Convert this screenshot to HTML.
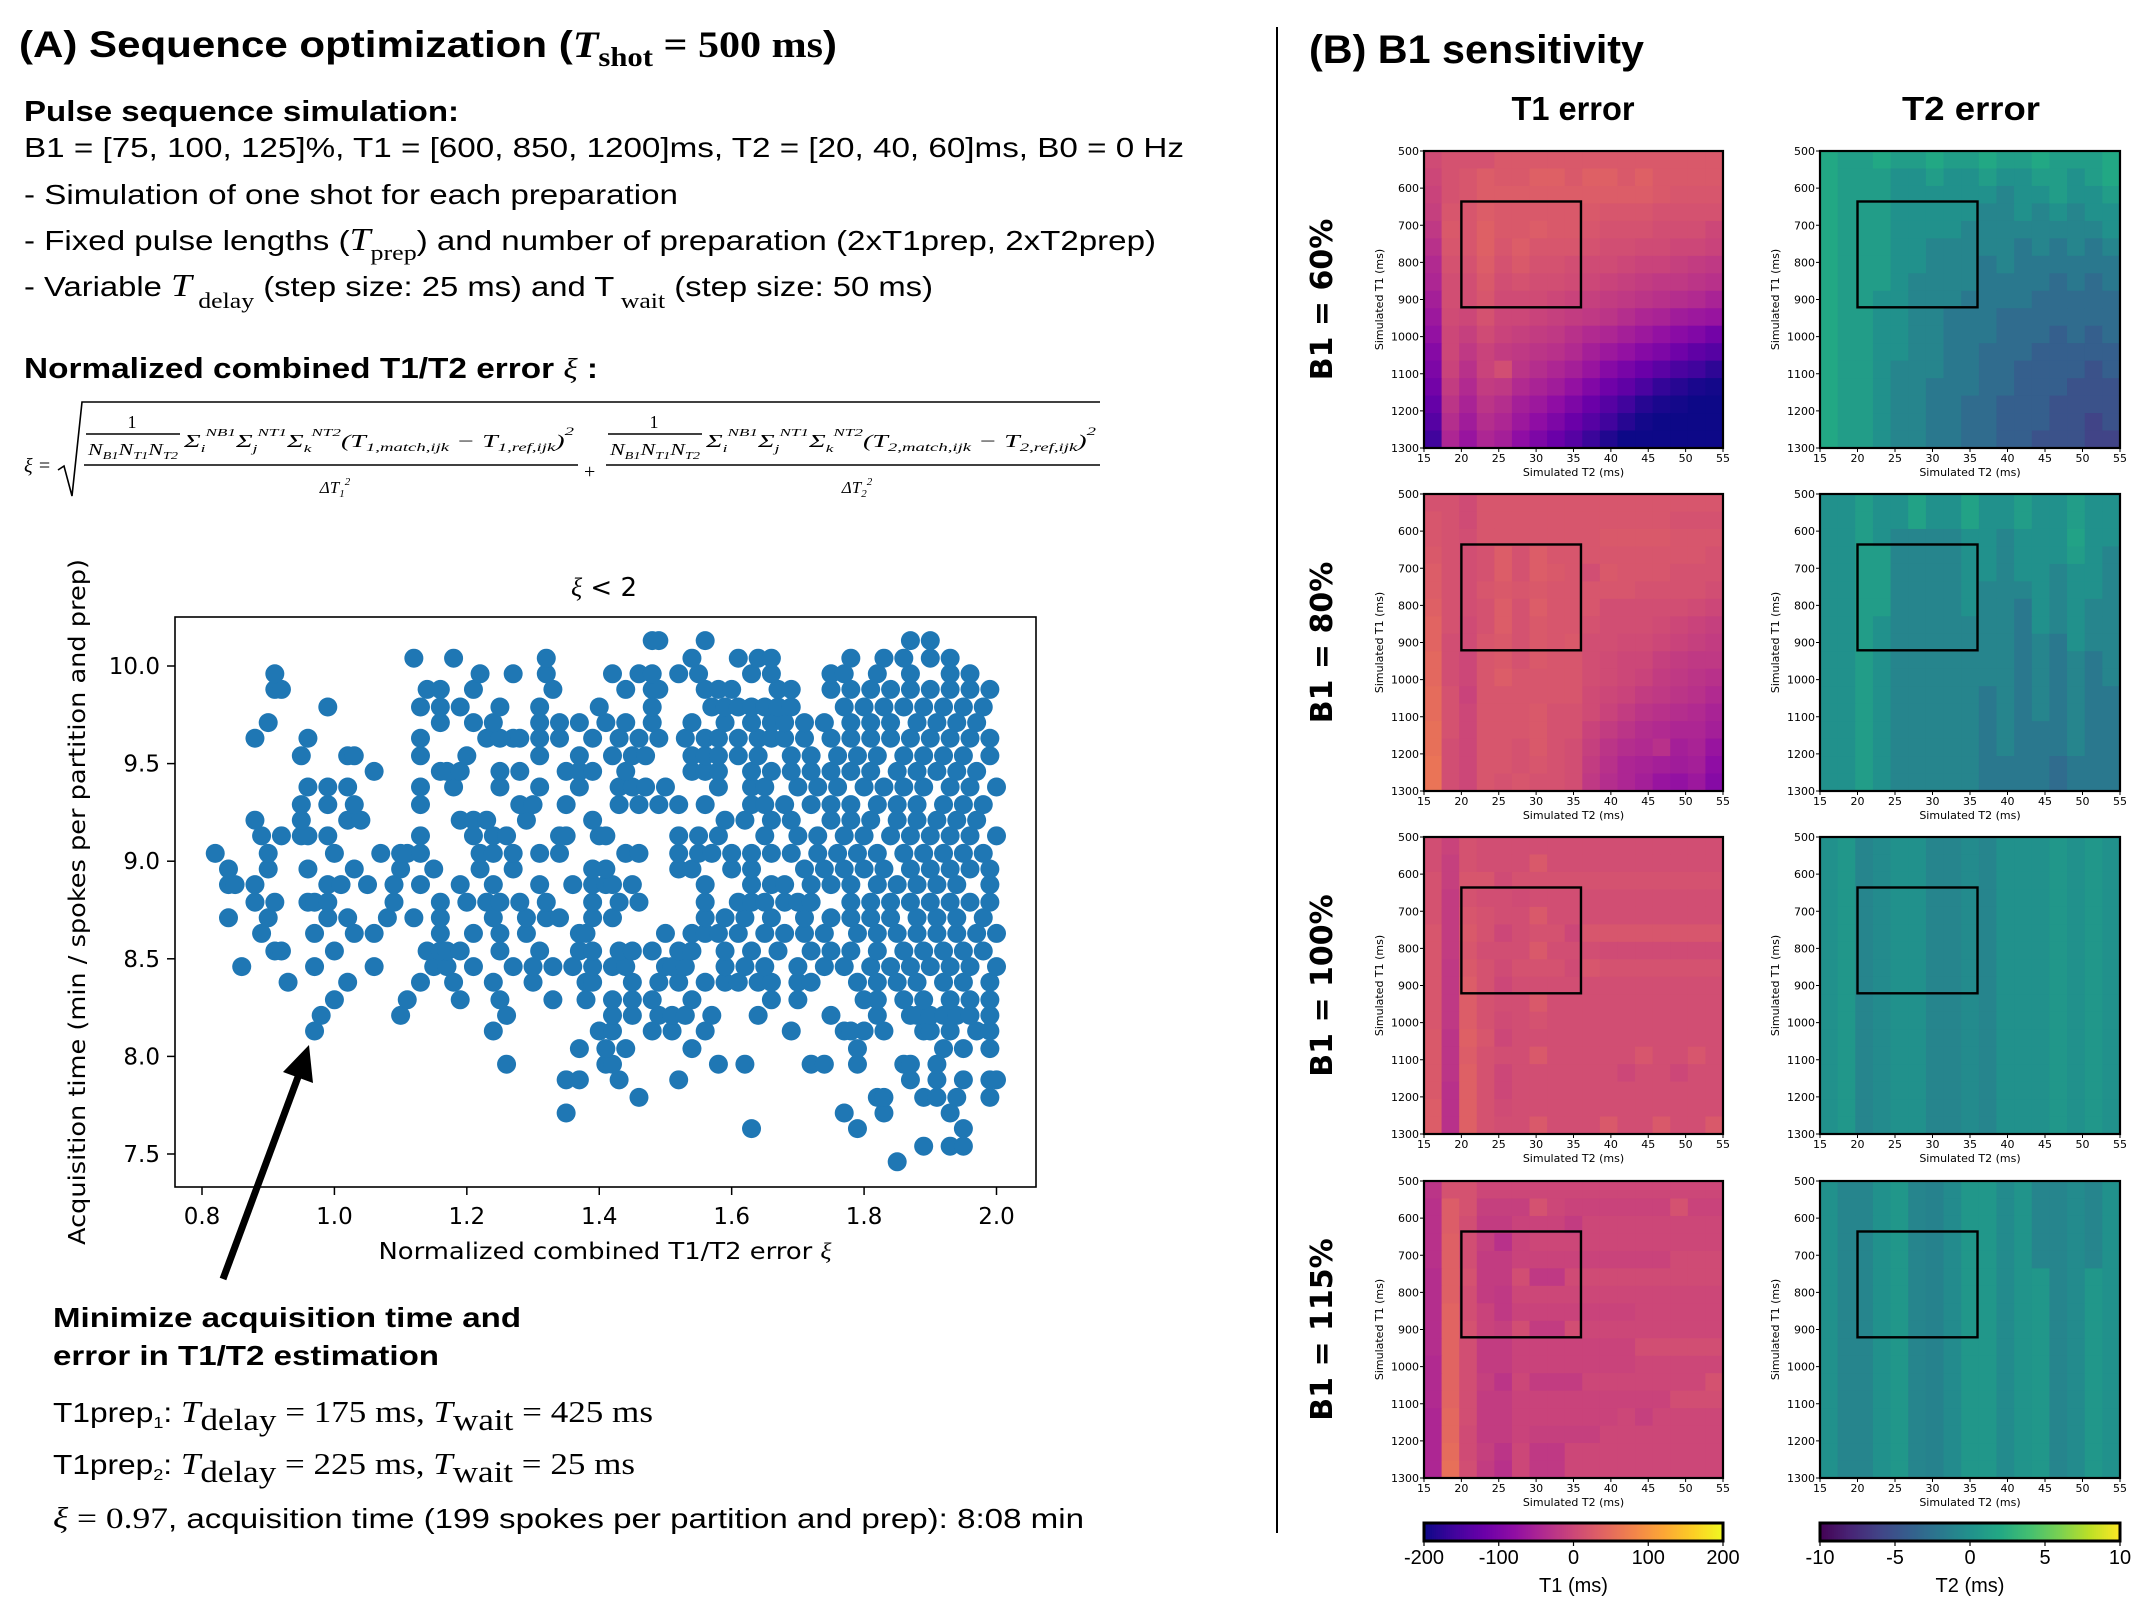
<!DOCTYPE html>
<html><head><meta charset="utf-8"><style>
html,body{margin:0;padding:0;background:#fff;}
svg{display:block;}
.t{font-family:"Liberation Sans",Arial,sans-serif;fill:#000;}
.m{font-family:"DejaVu Sans","Liberation Sans",sans-serif;fill:#000;}
.s{font-family:"Liberation Serif",serif;fill:#000;}
</style></head><body>
<svg id="fig" width="2150" height="1619" viewBox="0 0 2150 1619" xmlns="http://www.w3.org/2000/svg">
<rect x="0" y="0" width="2150" height="1619" fill="#fff"/>
<g>
<text class="t" x="19" y="57" font-size="37" font-weight="bold" textLength="818" lengthAdjust="spacingAndGlyphs">(A) Sequence optimization (<tspan class="s" font-style="italic">T</tspan><tspan class="s" font-size="27" dy="9">shot</tspan><tspan class="s" dy="-9"> = 500 ms</tspan>)</text>
<text class="t" x="24" y="121" font-size="29" font-weight="bold" textLength="435" lengthAdjust="spacingAndGlyphs">Pulse sequence simulation:</text>
<text class="t" x="24" y="157" font-size="28" textLength="1160" lengthAdjust="spacingAndGlyphs">B1 = [75, 100, 125]%, T1 = [600, 850, 1200]ms, T2 = [20, 40, 60]ms, B0 = 0 Hz</text>
<text class="t" x="24" y="204" font-size="28" textLength="654" lengthAdjust="spacingAndGlyphs">- Simulation of one shot for each preparation</text>
<text class="t" x="24" y="250" font-size="28" textLength="1132" lengthAdjust="spacingAndGlyphs">- Fixed pulse lengths (<tspan class="s" font-style="italic" font-size="32">T</tspan><tspan class="s" font-size="22" dy="10">prep</tspan><tspan dy="-10">) and number of preparation (2xT1prep, 2xT2prep)</tspan></text>
<text class="t" x="24" y="296" font-size="28" textLength="909" lengthAdjust="spacingAndGlyphs">- Variable <tspan class="s" font-style="italic" font-size="32">T</tspan><tspan class="s" font-size="22" dy="12"> delay</tspan><tspan dy="-12"> (step size: 25 ms) and T</tspan><tspan class="s" font-size="22" dy="12"> wait</tspan><tspan dy="-12"> (step size: 50 ms)</tspan></text>
<text class="t" x="24" y="378" font-size="29" font-weight="bold" textLength="574" lengthAdjust="spacingAndGlyphs">Normalized combined T1/T2 error <tspan class="s" font-style="italic" font-weight="normal">ξ</tspan> :</text>
</g>
<g stroke-linecap="butt">
<text class="s" x="24" y="472" font-size="20" font-style="italic">ξ =</text>
<path d="M 58 470 L 64 466 L 72 496 L 82 402 L 1100 402" fill="none" stroke="#000" stroke-width="1.6"/>
<text class="s" x="132" y="428" font-size="18" text-anchor="middle">1</text>
<line x1="86" y1="434" x2="180" y2="434" stroke="#000" stroke-width="1.4"/>
<text class="s" x="88" y="455" font-size="17" font-style="italic" textLength="90" lengthAdjust="spacingAndGlyphs">N<tspan font-size="11" dy="4">B1</tspan><tspan dy="-4">N</tspan><tspan font-size="11" dy="4">T1</tspan><tspan dy="-4">N</tspan><tspan font-size="11" dy="4">T2</tspan></text>
<text class="s" x="184" y="447" font-size="18" font-style="italic" textLength="390" lengthAdjust="spacingAndGlyphs">Σ<tspan font-size="11" dy="5">i</tspan><tspan font-size="11" dy="-16">NB1</tspan><tspan dy="11">Σ</tspan><tspan font-size="11" dy="5">j</tspan><tspan font-size="11" dy="-16">NT1</tspan><tspan dy="11">Σ</tspan><tspan font-size="11" dy="5">k</tspan><tspan font-size="11" dy="-16">NT2</tspan><tspan dy="11">(T</tspan><tspan font-size="12" dy="4">1,match,ijk</tspan><tspan dy="-4"> − T</tspan><tspan font-size="12" dy="4">1,ref,ijk</tspan><tspan dy="-4">)</tspan><tspan font-size="12" dy="-12">2</tspan></text>
<line x1="84" y1="465" x2="578" y2="465" stroke="#000" stroke-width="1.6"/>
<text class="s" x="335" y="493" font-size="17" font-style="italic" text-anchor="middle">ΔT<tspan font-size="11" dy="4">1</tspan><tspan font-size="11" dy="-12">2</tspan></text>
<text class="s" x="584" y="478" font-size="20">+</text>
<text class="s" x="654" y="428" font-size="18" text-anchor="middle">1</text>
<line x1="608" y1="434" x2="702" y2="434" stroke="#000" stroke-width="1.4"/>
<text class="s" x="610" y="455" font-size="17" font-style="italic" textLength="90" lengthAdjust="spacingAndGlyphs">N<tspan font-size="11" dy="4">B1</tspan><tspan dy="-4">N</tspan><tspan font-size="11" dy="4">T1</tspan><tspan dy="-4">N</tspan><tspan font-size="11" dy="4">T2</tspan></text>
<text class="s" x="706" y="447" font-size="18" font-style="italic" textLength="390" lengthAdjust="spacingAndGlyphs">Σ<tspan font-size="11" dy="5">i</tspan><tspan font-size="11" dy="-16">NB1</tspan><tspan dy="11">Σ</tspan><tspan font-size="11" dy="5">j</tspan><tspan font-size="11" dy="-16">NT1</tspan><tspan dy="11">Σ</tspan><tspan font-size="11" dy="5">k</tspan><tspan font-size="11" dy="-16">NT2</tspan><tspan dy="11">(T</tspan><tspan font-size="12" dy="4">2,match,ijk</tspan><tspan dy="-4"> − T</tspan><tspan font-size="12" dy="4">2,ref,ijk</tspan><tspan dy="-4">)</tspan><tspan font-size="12" dy="-12">2</tspan></text>
<line x1="606" y1="465" x2="1100" y2="465" stroke="#000" stroke-width="1.6"/>
<text class="s" x="857" y="493" font-size="17" font-style="italic" text-anchor="middle">ΔT<tspan font-size="11" dy="4">2</tspan><tspan font-size="11" dy="-12">2</tspan></text>
</g>
<g id="scatter">
<text class="m" x="604" y="596" font-size="26" text-anchor="middle"><tspan class="s" font-style="italic">ξ</tspan> &lt; 2</text>
<g id="scatter-ticks"></g>
<g id="scatter-points"></g>
<rect x="175" y="617" width="861" height="570" fill="none" stroke="#000" stroke-width="1.6"/>
<text class="m" x="605" y="1259" font-size="23" text-anchor="middle" textLength="453" lengthAdjust="spacingAndGlyphs">Normalized combined T1/T2 error <tspan class="s" font-style="italic">ξ</tspan></text>
<text class="m" transform="translate(85,902) rotate(-90)" font-size="23" text-anchor="middle" textLength="686" lengthAdjust="spacingAndGlyphs">Acquisition time (min / spokes per partition and prep)</text>
</g>
<g>
<line x1="223" y1="1279" x2="298" y2="1077" stroke="#000" stroke-width="7"/>
<polygon points="309,1045 313,1083 283,1072" fill="#000"/>
</g>
<g>
<text class="t" x="53" y="1327" font-size="28" font-weight="bold" textLength="468" lengthAdjust="spacingAndGlyphs">Minimize acquisition time and</text>
<text class="t" x="53" y="1365" font-size="28" font-weight="bold" textLength="386" lengthAdjust="spacingAndGlyphs">error in T1/T2 estimation</text>
<text class="t" x="53" y="1422" font-size="28" textLength="600" lengthAdjust="spacingAndGlyphs">T1prep<tspan font-size="16" dy="6">1</tspan><tspan dy="-6">: </tspan><tspan class="s" font-style="italic" font-size="31">T</tspan><tspan class="s" font-size="31" dy="8">delay</tspan><tspan class="s" font-size="31" dy="-8"> = 175 ms, </tspan><tspan class="s" font-style="italic" font-size="31">T</tspan><tspan class="s" font-size="31" dy="8">wait</tspan><tspan class="s" font-size="31" dy="-8"> = 425 ms</tspan></text>
<text class="t" x="53" y="1474" font-size="28" textLength="582" lengthAdjust="spacingAndGlyphs">T1prep<tspan font-size="16" dy="6">2</tspan><tspan dy="-6">: </tspan><tspan class="s" font-style="italic" font-size="31">T</tspan><tspan class="s" font-size="31" dy="8">delay</tspan><tspan class="s" font-size="31" dy="-8"> = 225 ms, </tspan><tspan class="s" font-style="italic" font-size="31">T</tspan><tspan class="s" font-size="31" dy="8">wait</tspan><tspan class="s" font-size="31" dy="-8"> = 25 ms</tspan></text>
<text class="t" x="53" y="1528" font-size="28" textLength="1031" lengthAdjust="spacingAndGlyphs"><tspan class="s" font-style="italic" font-size="30">ξ</tspan><tspan class="s" font-size="30"> = 0.97</tspan>, acquisition time (199 spokes per partition and prep): 8:08 min</text>
</g>
<line x1="1277" y1="27" x2="1277" y2="1533" stroke="#000" stroke-width="2"/>
<text class="t" x="1309" y="63" font-size="40" font-weight="bold" textLength="335" lengthAdjust="spacingAndGlyphs">(B) B1 sensitivity</text>
<text class="t" x="1573" y="120" font-size="33" font-weight="bold" text-anchor="middle" textLength="123" lengthAdjust="spacingAndGlyphs">T1 error</text>
<text class="t" x="1971" y="120" font-size="33" font-weight="bold" text-anchor="middle" textLength="138" lengthAdjust="spacingAndGlyphs">T2 error</text>
<g id="heatmaps"></g>
<g id="colorbars"></g>
</svg>
<script>
const timeLevels = [7.46,7.54,7.63,7.71,7.79,7.88,7.96,8.04,8.13,8.21,8.29,8.38,8.46,8.54,8.63,8.71,8.79,8.88,8.96,9.04,9.13,9.21,9.29,9.38,9.46,9.54,9.63,9.71,9.79,9.88,9.96,10.04,10.13];
const errorsByLevel = [
[1.85],
[1.89,1.93,1.95],
[1.63,1.79,1.95],
[1.35,1.77,1.83,1.93],
[1.46,1.82,1.83,1.89,1.91,1.94,1.99],
[1.35,1.37,1.43,1.52,1.87,1.91,1.95,1.99,2.0],
[1.26,1.41,1.42,1.58,1.62,1.72,1.74,1.79,1.86,1.87,1.91],
[1.37,1.41,1.44,1.54,1.79,1.92,1.95,1.99],
[0.97,1.24,1.40,1.42,1.48,1.51,1.56,1.69,1.77,1.78,1.80,1.83,1.89,1.90,1.93,1.97,1.99],
[0.98,1.10,1.26,1.42,1.45,1.49,1.51,1.53,1.57,1.64,1.75,1.82,1.87,1.88,1.90,1.92,1.94,1.96,1.99],
[1.00,1.11,1.19,1.25,1.33,1.38,1.42,1.45,1.48,1.54,1.66,1.70,1.80,1.82,1.86,1.89,1.93,1.96,1.99],
[0.93,1.02,1.13,1.18,1.24,1.30,1.38,1.39,1.45,1.49,1.52,1.56,1.59,1.61,1.64,1.66,1.70,1.72,1.79,1.82,1.85,1.88,1.92,1.95,1.99],
[0.86,0.97,1.06,1.15,1.17,1.21,1.27,1.30,1.33,1.36,1.39,1.42,1.44,1.50,1.51,1.53,1.59,1.62,1.65,1.70,1.74,1.77,1.81,1.84,1.87,1.90,1.93,1.96,2.0],
[0.91,0.92,1.00,1.14,1.16,1.17,1.19,1.25,1.31,1.37,1.39,1.43,1.45,1.48,1.52,1.54,1.59,1.63,1.67,1.72,1.75,1.78,1.82,1.86,1.89,1.92,1.95,1.98],
[0.89,0.97,1.03,1.06,1.16,1.21,1.25,1.29,1.37,1.38,1.50,1.54,1.56,1.58,1.61,1.65,1.68,1.71,1.74,1.79,1.82,1.85,1.88,1.91,1.94,1.97,2.0],
[0.84,0.90,0.99,1.02,1.08,1.12,1.16,1.24,1.29,1.32,1.34,1.39,1.42,1.56,1.59,1.62,1.66,1.71,1.75,1.78,1.81,1.84,1.88,1.91,1.94,1.98],
[0.88,0.91,0.96,0.97,0.99,1.09,1.16,1.20,1.23,1.25,1.28,1.32,1.39,1.43,1.46,1.56,1.61,1.63,1.65,1.68,1.70,1.72,1.78,1.81,1.84,1.87,1.90,1.93,1.96,1.99],
[0.84,0.85,0.88,0.99,1.01,1.05,1.09,1.13,1.19,1.24,1.31,1.36,1.39,1.41,1.42,1.45,1.56,1.63,1.66,1.68,1.72,1.75,1.78,1.82,1.85,1.88,1.91,1.94,1.99],
[0.84,0.90,0.96,1.03,1.10,1.15,1.22,1.27,1.39,1.41,1.52,1.54,1.60,1.63,1.71,1.74,1.77,1.80,1.83,1.87,1.90,1.93,1.96,1.99],
[0.82,0.90,1.00,1.07,1.10,1.11,1.13,1.22,1.24,1.27,1.31,1.34,1.44,1.46,1.52,1.55,1.57,1.60,1.63,1.66,1.69,1.73,1.76,1.79,1.82,1.86,1.89,1.92,1.95,1.98],
[0.89,0.92,0.95,0.96,0.99,1.13,1.21,1.24,1.26,1.34,1.35,1.40,1.41,1.52,1.55,1.58,1.65,1.70,1.73,1.77,1.80,1.84,1.87,1.90,1.93,1.96,2.0],
[0.88,0.95,1.02,1.04,1.19,1.21,1.23,1.29,1.39,1.59,1.62,1.66,1.69,1.75,1.78,1.81,1.85,1.88,1.91,1.94,1.97],
[0.95,0.99,1.03,1.13,1.28,1.30,1.35,1.43,1.46,1.49,1.52,1.56,1.63,1.65,1.68,1.72,1.75,1.78,1.82,1.85,1.88,1.92,1.95,1.98],
[0.96,0.99,1.02,1.13,1.18,1.25,1.31,1.37,1.43,1.45,1.47,1.50,1.58,1.63,1.65,1.70,1.73,1.76,1.80,1.83,1.86,1.89,1.93,1.96,2.0],
[1.06,1.16,1.17,1.19,1.25,1.28,1.35,1.37,1.39,1.44,1.54,1.56,1.58,1.63,1.66,1.69,1.72,1.75,1.78,1.81,1.85,1.88,1.91,1.94,1.97],
[0.95,1.02,1.03,1.13,1.20,1.31,1.37,1.42,1.45,1.47,1.54,1.56,1.58,1.61,1.64,1.69,1.72,1.76,1.79,1.82,1.86,1.89,1.92,1.95,1.99],
[0.88,0.96,1.13,1.23,1.25,1.27,1.28,1.31,1.34,1.39,1.43,1.46,1.49,1.53,1.56,1.58,1.61,1.64,1.66,1.68,1.71,1.75,1.78,1.81,1.84,1.87,1.90,1.93,1.96,1.99],
[0.90,1.16,1.21,1.24,1.31,1.34,1.37,1.41,1.44,1.48,1.54,1.59,1.63,1.66,1.68,1.71,1.74,1.78,1.81,1.84,1.88,1.91,1.94,1.97],
[0.99,1.13,1.16,1.19,1.25,1.31,1.40,1.48,1.57,1.59,1.61,1.63,1.65,1.67,1.69,1.77,1.80,1.83,1.86,1.89,1.92,1.95,1.98],
[0.91,0.92,1.14,1.16,1.21,1.33,1.44,1.48,1.49,1.56,1.58,1.60,1.67,1.69,1.75,1.78,1.81,1.84,1.87,1.90,1.93,1.96,1.99],
[0.91,1.22,1.27,1.32,1.42,1.46,1.48,1.52,1.55,1.63,1.66,1.75,1.77,1.82,1.87,1.93,1.96],
[1.12,1.18,1.32,1.54,1.61,1.64,1.66,1.78,1.83,1.86,1.90,1.93],
[1.48,1.49,1.56,1.87,1.90]
];
const xTickValues = [0.8,1.0,1.2,1.4,1.6,1.8,2.0];
const xTickLabels = ["0.8","1.0","1.2","1.4","1.6","1.8","2.0"];
const yTickValues = [7.5,8.0,8.5,9.0,9.5,10.0];
const yTickLabels = ["7.5","8.0","8.5","9.0","9.5","10.0"];

const t1Err60 = [
[5,15,15,15,25,25,25,25,25,25,25,25,25,25,25,25,25],
[0,15,20,30,25,25,35,35,25,35,35,25,35,25,25,25,25],
[-5,15,20,30,30,30,30,30,30,30,30,30,30,25,20,20,20],
[-10,20,20,30,25,25,25,25,25,25,20,20,20,15,15,15,15],
[-20,25,20,35,25,25,30,25,25,20,15,15,15,10,10,10,0],
[-30,20,20,35,20,30,20,20,20,15,10,10,5,5,0,0,-5],
[-40,15,15,30,15,25,15,15,10,5,5,0,-5,-5,-10,-15,-20],
[-45,10,10,25,10,15,10,10,5,0,-5,-10,-15,-20,-20,-25,-30],
[-55,10,10,20,5,5,5,0,-5,-10,-15,-20,-25,-30,-35,-40,-50],
[-65,5,0,15,0,0,-5,-10,-15,-20,-25,-35,-45,-50,-60,-65,-70],
[-75,0,-10,5,-5,-10,-15,-20,-30,-40,-45,-55,-65,-75,-85,-95,-110],
[-90,0,-20,-5,-15,-20,-25,-30,-40,-55,-65,-75,-90,-100,-115,-130,-140],
[-100,-5,-30,-5,10,-25,-35,-45,-55,-70,-90,-105,-120,-135,-150,-160,-175],
[-110,-15,-40,-15,-20,-40,-50,-60,-75,-95,-115,-130,-150,-170,-180,-190,-195],
[-125,-25,-50,-25,-35,-55,-65,-80,-100,-120,-140,-160,-180,-190,-195,-200,-200],
[-140,-35,-60,-35,-45,-65,-80,-100,-120,-140,-160,-180,-195,-200,-200,-200,-200],
[-160,-45,-70,-45,-55,-80,-100,-120,-140,-165,-185,-200,-200,-200,-200,-200,-200]
];
const t2Err60 = [
[2,1,1,2,1,1,2,1,1,2,1,1,2,1,1,1,2],
[2,1,1,1,0,0,1,0,0,1,0,0,1,1,0,1,2],
[2,1,1,1,0,0,0,0,0,0,-1,0,0,1,0,0,1],
[2,1,1,1,0,0,0,0,0,-1,-1,0,-1,0,-1,0,0],
[2,1,1,1,0,0,0,0,-1,-1,-1,-1,-1,-1,-1,-1,0],
[2,1,1,1,0,0,-1,-1,-1,-1,-1,-2,-1,-2,-1,-2,-1],
[2,1,1,1,0,0,-1,-1,-1,-2,-1,-2,-2,-2,-2,-2,-2],
[2,1,1,1,0,-1,-1,-1,-1,-2,-2,-2,-2,-3,-2,-3,-2],
[2,1,1,0,0,-1,-1,-1,-2,-2,-2,-2,-3,-3,-3,-3,-3],
[2,1,1,0,0,-1,-1,-2,-2,-2,-3,-3,-3,-3,-3,-3,-3],
[2,1,1,0,0,-1,-1,-2,-2,-2,-3,-3,-3,-4,-3,-4,-3],
[2,1,1,0,0,-1,-1,-2,-2,-3,-3,-3,-4,-4,-4,-4,-4],
[2,1,1,0,-1,-1,-1,-2,-2,-3,-3,-4,-4,-4,-4,-5,-4],
[2,1,1,0,-1,-1,-2,-2,-2,-3,-3,-4,-4,-4,-5,-5,-5],
[2,1,1,0,-1,-1,-2,-2,-3,-3,-4,-4,-4,-5,-5,-5,-5],
[2,1,1,0,-1,-1,-2,-2,-3,-3,-4,-4,-4,-5,-5,-6,-5],
[2,1,1,0,-1,-1,-2,-2,-3,-3,-4,-4,-5,-5,-5,-6,-6]
];
const t1Err80 = [
[15,15,5,20,20,20,20,20,20,20,20,20,20,20,20,20,20],
[20,15,5,20,20,20,20,20,20,20,20,20,20,20,15,15,15],
[20,15,10,20,20,20,20,20,20,20,25,25,25,25,20,20,20],
[25,15,10,15,30,15,30,20,20,20,20,20,20,20,20,20,15],
[30,15,10,15,30,15,30,25,20,10,25,20,20,20,15,15,15],
[30,15,10,20,25,20,25,20,20,20,20,20,15,15,15,15,10],
[35,15,10,15,30,15,30,20,20,20,10,10,10,10,10,5,0],
[40,15,5,15,30,15,25,20,20,15,10,10,10,5,0,-5,-10],
[40,10,5,20,25,15,25,20,25,10,10,5,5,0,-5,-10,-15],
[45,10,0,20,25,15,25,20,20,10,5,0,0,-10,-15,-20,-20],
[45,10,0,20,30,20,20,20,20,10,5,0,-5,-15,-20,-25,-30],
[50,15,-5,20,20,20,20,20,20,5,0,-5,-15,-20,-25,-30,-40],
[50,15,0,20,20,20,25,15,15,5,-5,-15,-25,-30,-35,-40,-50],
[55,15,0,20,20,20,25,15,15,-5,-15,-25,-35,-40,-45,-45,-55],
[55,10,0,20,20,15,25,15,10,-10,-25,-35,-40,-30,-55,-50,-70],
[60,10,0,20,20,15,20,15,10,-15,-30,-45,-50,-55,-60,-55,-80],
[60,10,0,20,15,20,15,15,10,-20,-35,-45,-55,-70,-75,-65,-90]
];
const t2Err80 = [
[0,0,1,0,0,1.5,0,0,1.5,0,0,1,0,0,1,0,0],
[0,0,1,0,0,1.5,0,0,1.5,0,0,1,0,0,1,0,0],
[0,0,1,0,-1,-1,-1,-1,0,0,-1,0,0,0,1.5,0,0],
[0,0,1,1,-1,-1,-1,-1,0,0,-1,0,0,0,1,0,-1],
[0,0,1,1,-1,-1,-1,-1,0,0,-1,0,0,-1,0,0,-1],
[0,0,1,1,-1,-1,-1,-1,0,-1,-1,-1,0,-1,0,0,-1],
[0,0,1,1,-1,-1,-1,-1,0,-1,-1,-2,0,-1,0,-1,-1],
[0,0,1,0,-1,-1,-1,-1,-1,-1,-1,-2,0,-1,0,-1,-1],
[0,0,1,0,-1,-1,-1,-1,-1,-1,-1,-2,-1,-2,0,-1,-1],
[0,0,1,0,-1,-1,-1,-1,-1,-1,-1,-2,-1,-2,-1,-2,-1],
[0,0,1,0,-1,-1,-1,-1,-1,-1,-1,-2,-1,-2,-1,-2,-1],
[0,0,1,0,-1,-1,-1,-1,-1,-2,-1,-2,-1,-2,-1,-2,-2],
[0,0,1,0,-1,-1,-1,-1,-1,-2,-1,-2,-1,-2,-1,-2,-2],
[0,0,1,0,-1,-1,-1,-1,-1,-2,-1,-2,-2,-2,-1,-2,-2],
[0,0,1,0,-1,-1,-1,-1,-1,-2,-1,-2,-2,-2,-1,-2,-2],
[0,0,1,0,-1,-1,-1,-1,-1,-2,-2,-2,-2,-3,-2,-2,-2],
[0,0,1,0,-1,-1,-1,-1,-1,-2,-2,-2,-2,-3,-2,-2,-2]
];
const t1Err100 = [
[10,-5,15,10,10,10,10,10,10,10,10,10,10,10,10,10,10],
[10,-10,15,10,10,10,25,10,10,10,10,10,10,10,10,10,10],
[15,-10,20,20,5,15,15,15,15,15,15,15,15,15,15,15,15],
[15,-15,15,10,10,5,10,10,10,10,10,10,10,10,10,10,10],
[15,-15,20,15,10,10,25,10,10,10,10,10,10,10,10,10,10],
[20,-15,25,15,0,10,15,15,0,20,20,20,20,20,20,20,20],
[20,-15,20,10,10,10,25,10,10,10,5,5,5,5,5,5,5],
[20,-20,25,15,5,15,15,15,5,20,15,15,15,15,15,15,15],
[20,-20,30,15,0,10,10,10,10,10,10,10,10,10,10,10,10],
[20,-20,30,15,10,10,25,10,10,10,10,10,10,10,10,10,10],
[20,-20,30,15,5,10,15,10,10,10,10,10,10,10,10,10,10],
[25,-25,35,20,0,10,10,10,10,10,10,10,10,10,10,10,10],
[25,-25,30,15,10,10,25,10,10,10,10,10,20,10,10,20,10],
[25,-25,35,15,0,10,10,10,10,10,10,0,10,10,0,10,10],
[25,-30,35,15,0,10,10,10,10,10,10,10,10,10,10,10,10],
[30,-30,35,15,5,10,10,10,10,10,10,10,10,10,10,10,10],
[30,-30,35,15,10,10,25,10,10,10,25,10,10,25,10,10,25]
];
const t2Err100 = [
[0,0.5,-1,-0.5,0,0,-1,-1,-0.5,-1,0,0,0,0.5,0,0.5,0],
[0,0.5,-1,-0.5,0,0,-1,-1,-0.5,-1,0,0,0,0.5,0,0.5,0],
[0,0.5,-1,-0.5,0,0,-1,-1,-0.5,-1,0,0,0,0.5,0,0.5,0],
[0,0.5,-1,-0.5,0,0,-1,-1,-0.5,-1,0,0,0,0.5,0,0.5,0],
[0,0.5,-1,-0.5,0,0,-1,-1,-0.5,-1,0,0,0,0.5,0,0.5,0],
[0,0.5,-1,-0.5,0,0,-1,-1,-0.5,-1,0,0,0,0.5,0,0.5,0],
[0,0.5,-1,-0.5,0,0,-1,-1,-0.5,-1,0,0,0,0.5,0,0.5,0],
[0,0.5,-1,-0.5,0,0,-1,-1,-0.5,-1,0,0,0,0.5,0,0.5,0],
[0,0.5,-1,-0.5,0,0,-1,-1,-0.5,-1,0,0,0,0.5,0,0.5,0],
[0,0.5,-1,-0.5,0,0,-1,-1,-0.5,-1,0,0,0,0.5,0,0.5,0],
[0,0.5,-1,-0.5,0,0,-1,-1,-0.5,-1,0,0,0,0.5,0,0.5,0],
[0,0.5,-1,-0.5,0,0,-1,-1,-0.5,-1,0,0,0,0.5,0,0.5,0],
[0,0.5,-1,-0.5,0,0,-1,-1,-0.5,-1,0,0,0,0.5,0,0.5,0],
[0,0.5,-1,-0.5,0,0,-1,-1,-0.5,-1,0,0,0,0.5,0,0.5,0],
[0,0.5,-1,-0.5,0,0,-1,-1,-0.5,-1,0,0,0,0.5,0,0.5,0],
[0,0.5,-1,-0.5,0,0,-1,-1,-0.5,-1,0,0,0,0.5,0,0.5,0],
[0,0.5,-1,-0.5,0,0,-1,-1,-0.5,-1,0,0,0,0.5,0,0.5,0]
];
const t1Err115 = [
[-25,15,15,0,0,0,0,0,0,0,0,0,0,0,0,0,0],
[-30,30,15,-10,-10,-10,15,0,-5,-5,-5,-5,-5,-5,15,-5,-5],
[-30,30,10,-15,-15,-5,-5,-5,-15,0,0,0,0,0,0,0,0],
[-30,35,10,-10,-30,-5,0,0,0,0,0,0,0,0,0,0,0],
[-30,35,10,-15,-15,-5,-5,-5,-5,-5,-5,-5,-5,-5,5,5,5],
[-35,35,15,-15,-15,10,-20,-20,5,5,5,5,5,5,5,5,5],
[-35,35,10,-15,-20,0,0,0,0,0,0,0,0,0,0,0,0],
[-35,40,10,-5,-20,-5,-5,-5,-5,-5,-5,-5,0,0,0,0,0],
[-35,40,15,-5,-10,10,-15,-15,10,0,0,0,0,0,0,0,0],
[-35,40,10,-15,-15,-5,-5,-5,-5,-5,-5,-5,10,10,10,10,10],
[-40,40,10,-15,-15,-5,-5,-5,-5,-5,-5,-5,0,0,0,0,0],
[-40,40,10,-10,-25,0,-15,-15,-15,0,0,0,0,0,0,0,15],
[-40,40,10,-15,-15,-5,-5,-5,-5,-5,-5,-5,-5,-5,10,10,10],
[-45,45,10,-15,-15,-5,-5,-5,-5,-5,-5,0,-10,0,0,0,0],
[-45,45,5,-15,-15,-5,-10,-10,-10,-10,0,0,0,0,0,0,0],
[-45,50,5,-10,-25,0,-20,-20,0,0,0,0,0,0,0,0,0],
[-45,55,10,-15,-30,0,-20,-20,0,0,0,0,0,0,0,0,0]
];
const t2Err115 = [
[0,-1,-1,0,0.5,-1,-1.2,-0.5,0.5,0.5,-0.5,0.3,-1,-1,-0.5,-1,0],
[0,-1,-1,0,0.5,-1,-1.2,-0.5,0.5,0.5,-0.5,0.3,-1,-1,-0.5,-1,0],
[0,-1,-1,0,0.5,-1,-1.2,-0.5,0.5,0.5,-0.5,0.3,-1,-1,-0.5,-1,0],
[0,-1,-1,0,0.5,-1,-1.2,-0.5,0.5,0.5,-0.5,0.3,-1,-1,-0.5,-1,0],
[0,-1,-1,0,0.5,-1,-1.2,-0.5,0.5,0.5,-0.5,0.3,-1,-1,-0.5,-1,0],
[0,-1,-1,0,0.5,-1,-1.2,-0.5,0.5,0.5,-0.5,0.3,0.5,-1,-0.5,0.5,0],
[0,-1,-1,0,0.5,-1,-1.2,-0.5,0.5,0.5,-0.5,0.3,0.5,-1,-0.5,0.5,0],
[0,-1,-1,0,0.5,-1,-1.2,-0.5,0.5,0.5,-0.5,0.3,0.5,-1,-0.5,0.5,0],
[0,-1,-1,0,0.5,-1,-1.2,-0.5,0.5,0.5,-0.5,0.3,0.5,-1,-0.5,0.5,0],
[0,-1,-1,0,0.5,-1,-1.2,-0.5,0.5,0.5,-0.5,0.3,0.5,-1,-0.5,0.5,0],
[0,-1,-1,0,0.5,-1,-1.2,-0.5,0.5,0.5,-0.5,0.3,0.5,-1,-0.5,0.5,0],
[0,-1,-1,0,0.5,-1,-1.2,-0.5,0.5,0.5,-0.5,0.3,0.5,-1,-0.5,0.5,0],
[0,-1,-1,0,0.5,-1,-1.2,-0.5,0.5,0.5,-0.5,0.3,0.5,-1,-0.5,0.5,0],
[0,-1,-1,0,0.5,-1,-1.2,-0.5,0.5,0.5,-0.5,0.3,0.5,-1,-0.5,0.5,0],
[0,-1,-1,0,0.5,-1,-1.2,-0.5,0.5,0.5,-0.5,0.3,0.5,-1,-0.5,0.5,0],
[0,-1,-1,0,0.5,-1,-1.2,-0.5,0.5,0.5,-0.5,0.3,0.5,-1,-0.5,0.5,0],
[0,-1,-1,0,0.5,-1,-1.2,-0.5,0.5,0.5,-0.5,0.3,0.5,-1,-0.5,0.5,0]
];
const b1Labels = ["B1 = 60%","B1 = 80%","B1 = 100%","B1 = 115%"];
const hmYTicks = [500,600,700,800,900,1000,1100,1200,1300];
const hmXTicks = [15,20,25,30,35,40,45,50,55];
const roiBox = [20,36,636,921];
const t1CbarTicks = [-200,-100,0,100,200];
const t2CbarTicks = [-10,-5,0,5,10];

const NS = "http://www.w3.org/2000/svg";
function mk(tag, attrs, parent){ const e=document.createElementNS(NS,tag); for(const k in attrs) e.setAttribute(k,attrs[k]); if(parent) parent.appendChild(e); return e; }

const sx = v => 202 + (v-0.8)*(996.5-202)/1.2;
const sy = v => 666 + (10-v)*(1154-666)/2.5;
const tickG = document.getElementById('scatter-ticks');
xTickValues.forEach((v,i)=>{
  const l = mk('line',{x1:sx(v),x2:sx(v),y1:1187,y2:1195,stroke:'#000','stroke-width':1.5},tickG);
  
  
  const t = mk('text',{x:sx(v),y:1224,'font-size':23,'text-anchor':'middle',class:'m'},tickG);
  t.textContent = xTickLabels[i];
  
  
});
yTickValues.forEach((v,i)=>{
  const l = mk('line',{x1:167,x2:175,y1:sy(v),y2:sy(v),stroke:'#000','stroke-width':1.5},tickG);
  
  
  const t = mk('text',{x:160,y:sy(v)+8,'font-size':23,'text-anchor':'end',class:'m'},tickG);
  t.textContent = yTickLabels[i];
  
  
});
const ptG = document.getElementById('scatter-points');
timeLevels.forEach((lvl,i)=>{
  errorsByLevel[i].forEach(x=>{
    const c = mk('circle',{cx:sx(x),cy:sy(lvl),r:9.5,fill:'#1f77b4'},ptG);
    
    
  });
});

const plasmaStops = ["#0d0887","#41049d","#6a00a8","#8f0da4","#b12a90","#cc4778","#e16462","#f2844b","#fca636","#fcce25","#f0f921"];
const viridisStops = ["#440154","#482475","#414487","#355f8d","#2a788e","#21918c","#22a884","#44bf70","#7ad151","#bddf26","#fde725"];
function hex(h){return [parseInt(h.slice(1,3),16),parseInt(h.slice(3,5),16),parseInt(h.slice(5,7),16)];}
function cmap(stops,t){ t=Math.max(0,Math.min(1,t)); const p=t*(stops.length-1); const i=Math.min(stops.length-2,Math.floor(p)); const f=p-i; const a=hex(stops[i]),b=hex(stops[i+1]); return 'rgb('+a.map((v,k)=>Math.round(v+(b[k]-v)*f)).join(',')+')'; }

const panelTops = [151,494,837,1181];
const panelH = 297;
const colDefs = [
  {x0:1424,w:299,data:[t1Err60,t1Err80,t1Err100,t1Err115],stops:plasmaStops,vmin:-200,vmax:200,name:'t1-error'},
  {x0:1820,w:300,data:[t2Err60,t2Err80,t2Err100,t2Err115],stops:viridisStops,vmin:-10,vmax:10,name:'t2-error'}
];
const hmG = document.getElementById('heatmaps');
colDefs.forEach((cd,ci)=>{
  panelTops.forEach((top,ri)=>{
    const g = mk('g',{},hmG);
    
    
    const hx = v => cd.x0 + (v-15)/40*cd.w;
    const hy = v => top + (v-500)/800*panelH;
    const grid = cd.data[ri];
    const nR = grid.length, nC = grid[0].length;
    grid.forEach((row,r)=>{
      row.forEach((val,c)=>{
        const x1 = hx(15+c*40/nC), x2 = hx(15+(c+1)*40/nC);
        const y1 = hy(500+r*800/nR), y2 = hy(500+(r+1)*800/nR);
        const rc = mk('rect',{x:x1,y:y1,width:x2-x1+0.6,height:y2-y1+0.6,fill:cmap(cd.stops,(val-cd.vmin)/(cd.vmax-cd.vmin))},g);
        
        
      });
    });
    const fr = mk('rect',{x:cd.x0,y:top,width:cd.w,height:panelH,fill:'none',stroke:'#000','stroke-width':2.2},g);
    
    
    const roi = mk('rect',{x:hx(roiBox[0]),y:hy(roiBox[2]),width:hx(roiBox[1])-hx(roiBox[0]),height:hy(roiBox[3])-hy(roiBox[2]),fill:'none',stroke:'#000','stroke-width':2.4},g);
    
    
    hmYTicks.forEach(v=>{
      mk('line',{x1:cd.x0-4,x2:cd.x0,y1:hy(v),y2:hy(v),stroke:'#000','stroke-width':1},g);
      const t = mk('text',{x:cd.x0-5,y:hy(v)+4,'font-size':11,'text-anchor':'end',class:'m'},g);
      t.textContent = v;
      
      
    });
    hmXTicks.forEach(v=>{
      mk('line',{x1:hx(v),x2:hx(v),y1:top+panelH,y2:top+panelH+4,stroke:'#000','stroke-width':1},g);
      const t = mk('text',{x:hx(v),y:top+panelH+14,'font-size':11,'text-anchor':'middle',class:'m'},g);
      t.textContent = v;
      
      
    });
    const xl = mk('text',{x:cd.x0+cd.w/2,y:top+panelH+28,'font-size':11,'text-anchor':'middle',class:'m'},g);
    xl.textContent = 'Simulated T2 (ms)';
    
    
    const yl = mk('text',{transform:'translate('+(cd.x0-41)+','+(top+panelH/2)+') rotate(-90)','font-size':11,'text-anchor':'middle',class:'m'},g);
    yl.textContent = 'Simulated T1 (ms)';
    
    
    if(ci===0){
      const bl = mk('text',{transform:'translate(1332,'+(top+panelH/2)+') rotate(-90)','font-size':30,'font-weight':'bold','text-anchor':'middle',class:'m'},hmG);
      bl.textContent = b1Labels[ri];
      
      
    }
  });
});

const cbG = document.getElementById('colorbars');
[[1424,299,plasmaStops,t1CbarTicks,'T1 (ms)','t1-colorbar'],[1820,300,viridisStops,t2CbarTicks,'T2 (ms)','t2-colorbar']].forEach(([x0,w,stops,ticks,label,name])=>{
  const g = mk('g',{},cbG);
  
  
  const steps = 150;
  for(let i=0;i<steps;i++){
    mk('rect',{x:x0+i*w/steps,y:1523,width:w/steps+0.6,height:18,fill:cmap(stops,(i+0.5)/steps)},g);
  }
  mk('rect',{x:x0,y:1523,width:w,height:18,fill:'none',stroke:'#000','stroke-width':3},g);
  const tmin = ticks[0], tmax = ticks[ticks.length-1];
  ticks.forEach(v=>{
    const x = x0 + (v-tmin)/(tmax-tmin)*w;
    mk('line',{x1:x,x2:x,y1:1541,y2:1546,stroke:'#000','stroke-width':1.2},g);
    const t = mk('text',{x:x,y:1564,'font-size':20,'text-anchor':'middle',class:'t'},g);
    t.textContent = (v<0?'-':'')+Math.abs(v);
    
    
  });
  const lt = mk('text',{x:x0+w/2,y:1592,'font-size':20,'text-anchor':'middle',class:'t'},g);
  lt.textContent = label;
  
  
});
</script>
</body></html>
